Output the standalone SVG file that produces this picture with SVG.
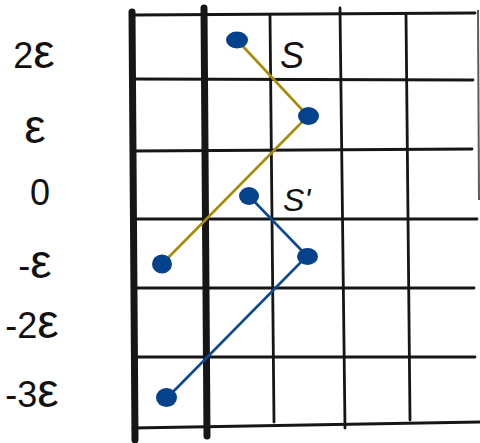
<svg xmlns="http://www.w3.org/2000/svg" width="480" height="443" viewBox="0 0 480 443">
<style>
.bg{fill:#ffffff}
.thick{stroke:#161616;stroke-width:7;stroke-linecap:round;fill:none}
.grid{stroke:#161616;stroke-width:2.8;stroke-linecap:round;fill:none}
.lbl{font-family:"Liberation Sans","DejaVu Sans",sans-serif;font-size:36px;fill:#111111;text-anchor:middle}
.eps{font-size:48px}
.slbl{font-family:"Liberation Sans","DejaVu Sans",sans-serif;fill:#111111;font-style:italic}
.dot{fill:#05428c}
.gold{stroke:#a88c08;stroke-width:2.6;fill:none;stroke-linecap:round}
.blue{stroke:#0b4a92;stroke-width:2.6;fill:none;stroke-linecap:round}
</style>
<rect class="bg" x="0" y="0" width="480" height="443"/>
<g id="grid">
<path class="grid" d="M133 15 L475 13"/>
<path class="grid" d="M133 79 L473 80"/>
<path class="grid" d="M133 151 L472 149"/>
<path class="grid" d="M133 219 L477 219"/>
<path class="grid" d="M133 288 L474 288"/>
<path class="grid" d="M133 357 L475 357"/>
<path class="grid" d="M133 428 L480 422"/>
<path class="grid" d="M270 15 L274 422"/>
<path class="grid" d="M340 8 L345 428"/>
<path class="grid" d="M406 14 L410 420"/>
<path d="M478 10 L479 200" stroke="#333" stroke-width="2" opacity="0.8"/>
<path class="thick" d="M132 12 L135 440"/>
<path class="thick" d="M204 8 L207 436"/>
</g>
<g id="axis-labels">
<text class="lbl" x="34" y="68">2<tspan class="eps">ε</tspan></text>
<text class="lbl" x="35" y="143"><tspan class="eps">ε</tspan></text>
<text class="lbl" x="40" y="205">0</text>
<text class="lbl" x="35" y="278">-<tspan class="eps">ε</tspan></text>
<text class="lbl" x="32" y="338">-2<tspan class="eps">ε</tspan></text>
<text class="lbl" x="32" y="407">-3<tspan class="eps">ε</tspan></text>
</g>
<g id="connectors">
<path class="gold" d="M237 40 L308 116 L162 264"/>
<path class="blue" d="M249 196 L307 256 L167 398"/>
</g>
<g id="S">
<ellipse class="dot" cx="237" cy="40" rx="11" ry="8.5"/>
<ellipse class="dot" cx="308.5" cy="116" rx="10.5" ry="9"/>
<ellipse class="dot" cx="162" cy="264" rx="10" ry="9.5"/>
<text class="slbl" x="280" y="68" font-size="36">S</text>
</g>
<g id="S-prime">
<ellipse class="dot" cx="249" cy="196" rx="10" ry="9"/>
<ellipse class="dot" cx="307.5" cy="256.5" rx="10.5" ry="8.5"/>
<ellipse class="dot" cx="166.5" cy="397.5" rx="10.5" ry="9.5"/>
<text class="slbl" x="283" y="211" font-size="32">S'</text>
</g>
</svg>
